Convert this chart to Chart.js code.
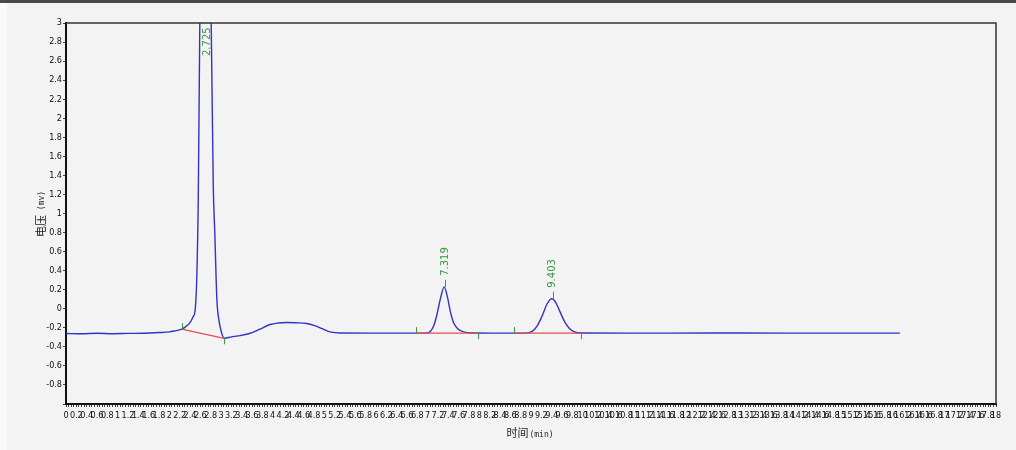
<!DOCTYPE html>
<html>
<head>
<meta charset="utf-8">
<script src="https://cdn.jsdelivr.net/npm/chart.js@4"></script>
<style>
  html, body { margin: 0; padding: 0; background: #f3f3f3; }
  #wrap { width: 1016px; height: 450px; position: relative; }
</style>
</head>
<body>
<div id="wrap"><canvas id="chrom-chart"></canvas></div>
<script>
// trace (min, mV)
const times = [0, 0.3, 0.6, 0.9, 1.2, 1.5, 1.8, 2.0, 2.1, 2.24, 2.3, 2.4, 2.46, 2.5, 2.53, 2.56, 2.59, 2.65, 2.725, 2.78, 2.81, 2.85, 2.88, 2.92, 2.96, 3.01, 3.06,
    3.2, 3.33, 3.55, 3.75, 3.95, 4.1, 4.27, 4.45, 4.66, 4.8, 4.92, 5.02, 5.11, 5.3, 6.0,
    6.95, 7.05, 7.12, 7.18, 7.24, 7.32, 7.38, 7.44, 7.5, 7.58, 7.68, 7.85, 8.3,
    8.9, 9.02, 9.12, 9.22, 9.31, 9.4, 9.48, 9.56, 9.65, 9.74, 9.84, 9.98, 11, 12.5, 14, 15, 16.14];
const volts = [-0.26, -0.263, -0.258, -0.262, -0.259, -0.257, -0.25, -0.243, -0.233, -0.215, -0.195, -0.145, -0.085, -0.01, 0.3, 1.15, 3.0, 5.2, 6.2, 4.8, 3.0, 1.3, 0.8, 0.1, -0.12, -0.25, -0.31,
    -0.295, -0.285, -0.26, -0.215, -0.165, -0.15, -0.145, -0.147, -0.155, -0.175, -0.2, -0.225, -0.243, -0.255, -0.256,
    -0.256, -0.238, -0.175, -0.06, 0.09, 0.23, 0.13, -0.03, -0.145, -0.21, -0.24, -0.255, -0.256,
    -0.256, -0.238, -0.18, -0.07, 0.05, 0.105, 0.065, -0.03, -0.135, -0.205, -0.243, -0.255, -0.256, -0.255, -0.256, -0.256, -0.256];

// integration baselines
const blStartT = [2.24, 6.77, 8.67];
const blStartV = [-0.215, -0.256, -0.256];
const blEndT = [3.06, 7.97, 9.97];
const blEndV = [-0.31, -0.256, -0.256];

// peaks
const peakTimes = [2.725, 7.319, 9.403];
const peakHeights = [6.2, 0.23, 0.105];
const peakLabels = ['2.725', '7.319', '9.403'];

const tickFont = { family: "'Liberation Sans Narrow', 'DejaVu Sans Condensed', sans-serif", size: 9 };

const traceData = times.map((t, i) => ({ x: t, y: volts[i] }));
const baselineData = [];
blStartT.forEach((t, i) => {
    baselineData.push({ x: t, y: blStartV[i] });
    baselineData.push({ x: blEndT[i], y: blEndV[i] });
    baselineData.push({ x: blEndT[i], y: null });
});

const chromPlugin = {
    id: 'chrom',
    beforeDraw(chart) {
        const ctx = chart.ctx;
        ctx.save();
        ctx.fillStyle = '#f3f3f3';
        ctx.fillRect(0, 0, chart.width, chart.height);
        ctx.fillStyle = '#fafafa';
        ctx.fillRect(0, 0, 7, chart.height);
        ctx.fillStyle = '#4a4a4a';
        ctx.fillRect(0, 0, chart.width, 3);
        ctx.restore();
    },
    afterDatasetsDraw(chart) {
        const ctx = chart.ctx;
        const xs = chart.scales.x, ys = chart.scales.y;
        const a = chart.chartArea;
        ctx.save();

        // frame top / right
        ctx.strokeStyle = '#333';
        ctx.lineWidth = 1.5;
        ctx.beginPath();
        ctx.moveTo(a.left, a.top);
        ctx.lineTo(a.right, a.top);
        ctx.lineTo(a.right, a.bottom);
        ctx.stroke();

        // green start/end marks
        ctx.strokeStyle = '#3c9a3c';
        ctx.lineWidth = 1;
        blStartT.forEach((t, i) => {
            const px = Math.round(xs.getPixelForValue(t)) + 0.5;
            const py = ys.getPixelForValue(blStartV[i]);
            ctx.beginPath(); ctx.moveTo(px, py - 6); ctx.lineTo(px, py); ctx.stroke();
            const ex = Math.round(xs.getPixelForValue(blEndT[i])) + 0.5;
            const ey = ys.getPixelForValue(blEndV[i]);
            ctx.beginPath(); ctx.moveTo(ex, ey); ctx.lineTo(ex, ey + 6); ctx.stroke();
        });

        // peak labels
        ctx.fillStyle = '#3c9a3c';
        ctx.font = "10px 'DejaVu Sans', sans-serif";
        ctx.textBaseline = 'middle';
        ctx.textAlign = 'left';
        peakTimes.forEach((t, i) => {
            const px = xs.getPixelForValue(t) + 1;
            let py = ys.getPixelForValue(peakHeights[i]);
            if (py < a.top + 35) {
                py = a.top + 33;
            } else {
                ctx.beginPath(); ctx.moveTo(Math.round(px) + 0.5, py); ctx.lineTo(Math.round(px) + 0.5, py - 7); ctx.stroke();
                py -= 11;
            }
            ctx.save();
            ctx.translate(px, py);
            ctx.rotate(-Math.PI / 2);
            ctx.fillText(peakLabels[i], 0, 0);
            ctx.restore();
        });

        // axis titles
        ctx.fillStyle = '#222';
        ctx.textBaseline = 'alphabetic';
        const cjk = "11px 'Noto Sans CJK SC', sans-serif";
        const small = "8px 'DejaVu Sans Mono', monospace";
        ctx.font = cjk;
        const w1 = ctx.measureText('时间').width;
        ctx.font = small;
        const w2 = ctx.measureText('(min)').width;
        let sx = 530 - (w1 + w2 + 1) / 2;
        ctx.font = cjk; ctx.fillText('时间', sx, 437);
        ctx.font = small; ctx.fillText('(min)', sx + w1 + 1, 437);

        ctx.font = cjk;
        const v1 = ctx.measureText('电压').width;
        ctx.font = small;
        const v2 = ctx.measureText(' (mv)').width;
        ctx.save();
        ctx.translate(45, 214);
        ctx.rotate(-Math.PI / 2);
        sx = -(v1 + v2) / 2;
        ctx.font = cjk; ctx.fillText('电压', sx, 0);
        ctx.font = small; ctx.fillText(' (mv)', sx + v1, -1);
        ctx.restore();

        ctx.restore();
    }
};

new Chart(document.getElementById('chrom-chart').getContext('2d'), {
    type: 'line',
    data: {
        datasets: [{
            label: 'baseline',
            data: baselineData,
            borderColor: '#e05050',
            borderWidth: 1.3,
            pointRadius: 0,
            spanGaps: false,
        }, {
            label: 'signal',
            data: traceData,
            borderColor: '#3232c4',
            borderWidth: 1.4,
            pointRadius: 0,
            cubicInterpolationMode: 'monotone',
        }]
    },
    options: {
        responsive: true,
        maintainAspectRatio: false,
        animation: false,
        layout: { padding: { top: 23, right: 20, left: 0, bottom: 0 } },
        plugins: {
            legend: { display: false },
            tooltip: { enabled: false },
        },
        scales: {
            x: {
                type: 'linear',
                min: 0,
                max: 18,
                afterFit: (s) => { s.height = 46; },
                border: { display: true, color: '#111', width: 2 },
                grid: { drawOnChartArea: false, drawTicks: true, tickLength: 3, color: '#444' },
                ticks: {
                    stepSize: 0.05,
                    autoSkip: false,
                    maxRotation: 0,
                    minRotation: 0,
                    padding: 3,
                    color: '#111',
                    font: tickFont,
                    callback: (v) => {
                        const k = v * 5;
                        if (Math.abs(k - Math.round(k)) > 1e-6) return '';
                        return String(Math.round(v * 10) / 10);
                    }
                }
            },
            y: {
                min: -1,
                max: 3,
                afterFit: (s) => { s.width = 66; },
                border: { display: true, color: '#111', width: 2 },
                grid: { drawOnChartArea: false, drawTicks: true, tickLength: 3, color: '#444' },
                ticks: {
                    stepSize: 0.2,
                    padding: 1,
                    color: '#111',
                    font: tickFont,
                    callback: (v) => (Math.abs(v + 1) < 1e-6 ? '' : String(Math.round(v * 10) / 10))
                }
            }
        }
    },
    plugins: [ chromPlugin ],
});
</script>
</body>
</html>
